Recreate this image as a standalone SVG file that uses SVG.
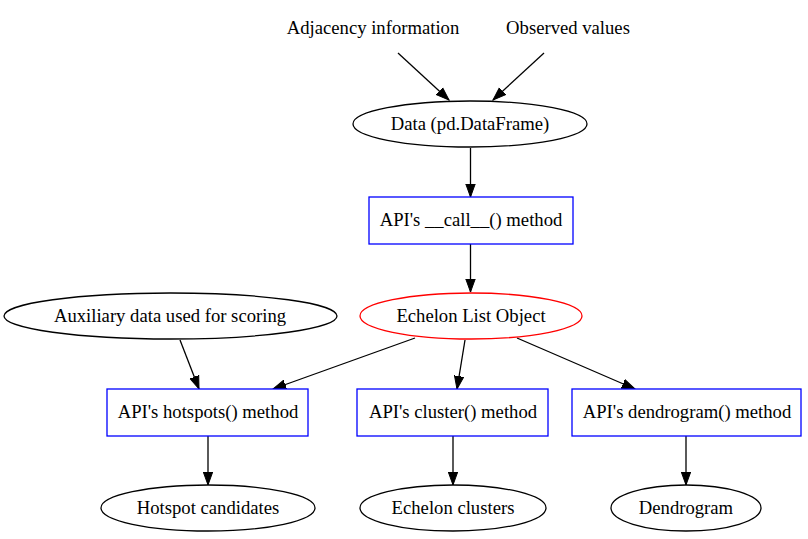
<svg xmlns="http://www.w3.org/2000/svg" width="808" height="539" viewBox="0 0 808 539">
<style>
text{font-family:"Liberation Serif","Times New Roman",serif;font-size:18.67px;fill:#000;text-anchor:middle}
.n{fill:#fff;stroke:#000;stroke-width:1.3}
.b{fill:#fff;stroke:#0000ff;stroke-width:1.3}
.r{fill:#fff;stroke:#ff0000;stroke-width:1.3}
.e{stroke:#000;stroke-width:1.3;fill:none;marker-end:url(#ah)}
</style>
<defs>
<marker id="ah" markerUnits="userSpaceOnUse" markerWidth="14" markerHeight="11" refX="13" refY="5.5" orient="auto" viewBox="0 0 14 11">
<path d="M0,0.8 L13,5.5 L0,10.2 z" fill="#000" stroke="#000" stroke-width="1"/>
</marker>
</defs>
<rect width="808" height="539" fill="#fff"/>
<g id="edges">
<line class="e" x1="398" y1="53" x2="449" y2="100"/>
<line class="e" x1="544" y1="53" x2="493" y2="100"/>
<line class="e" x1="470.5" y1="148" x2="470.5" y2="197"/>
<line class="e" x1="470.5" y1="244" x2="470.5" y2="292"/>
<line class="e" x1="180" y1="340" x2="199" y2="389"/>
<line class="e" x1="415" y1="338" x2="273" y2="389"/>
<line class="e" x1="465" y1="340" x2="457" y2="389"/>
<line class="e" x1="517" y1="338" x2="635" y2="389"/>
<line class="e" x1="208" y1="436" x2="208" y2="485"/>
<line class="e" x1="453" y1="436" x2="453" y2="485"/>
<line class="e" x1="686" y1="436" x2="686" y2="485"/>
</g>
<g id="adjacency"><text x="373" y="34">Adjacency information</text></g>
<g id="observed"><text x="568" y="34">Observed values</text></g>
<g id="data"><ellipse class="n" cx="470" cy="124" rx="117" ry="23"/><text x="470" y="130">Data (pd.DataFrame)</text></g>
<g id="call"><rect class="b" x="369" y="197" width="204" height="47"/><text x="471" y="226">API's __call__() method</text></g>
<g id="aux"><ellipse class="n" cx="170.5" cy="316" rx="166.5" ry="23"/><text x="170" y="322">Auxiliary data used for scoring</text></g>
<g id="echelon"><ellipse class="r" cx="471" cy="316" rx="111" ry="23"/><text x="471" y="322">Echelon List Object</text></g>
<g id="hotspots"><rect class="b" x="107" y="389" width="201" height="47"/><text x="208" y="418">API's hotspots() method</text></g>
<g id="cluster"><rect class="b" x="357" y="389" width="191" height="47"/><text x="453" y="418">API's cluster() method</text></g>
<g id="dendrogram"><rect class="b" x="572" y="389" width="229" height="47"/><text x="687" y="418">API's dendrogram() method</text></g>
<g id="hotspot_candidates"><ellipse class="n" cx="208" cy="508" rx="107" ry="23"/><text x="208" y="514">Hotspot candidates</text></g>
<g id="echelon_clusters"><ellipse class="n" cx="453" cy="508" rx="93" ry="23"/><text x="453" y="514">Echelon clusters</text></g>
<g id="dendrogram_out"><ellipse class="n" cx="686" cy="508" rx="75" ry="23"/><text x="686" y="514">Dendrogram</text></g>
</svg>
